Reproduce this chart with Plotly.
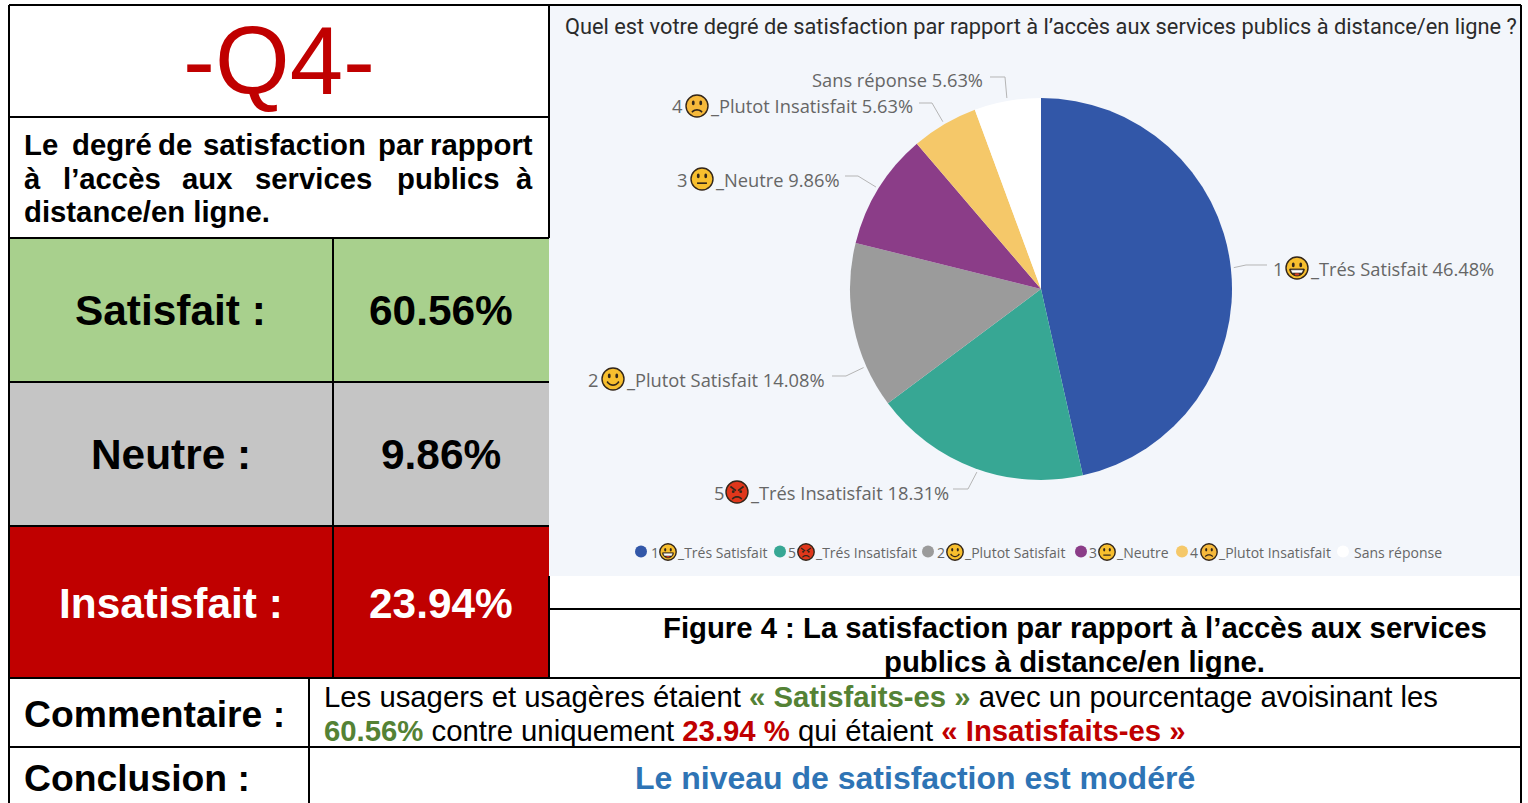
import math
import plotly.graph_objects as go

W, H = 1528, 803
categories = ["Trés Satisfait", "Trés Insatisfait", "Plutot Satisfait", "Neutre", "Plutot Insatisfait", "Sans réponse"]
prefixes = ["1", "5", "2", "3", "4", ""]
faces = ["grin", "angry", "smile", "neutral", "frown", None]
values = [46.48, 18.31, 14.08, 9.86, 5.63, 5.63]
colors = ["#3257A8", "#37A794", "#9B9B9B", "#8B3D88", "#F5C869", "#FFFFFF"]
title = "Quel est votre degré de satisfaction par rapport à l’accès aux services publics à distance/en ligne ?"
summary_labels = ["Satisfait :", "Neutre :", "Insatisfait :"]
summary_values = ["60.56%", "9.86%", "23.94%"]

def X(x): return x / W
def Y(y): return 1 - y / H

shapes, ann = [], []

def rect(x0, y0, x1, y1, fill, layer="below"):
    shapes.append(dict(type="rect", xref="paper", yref="paper", x0=X(x0), x1=X(x1), y0=Y(y0), y1=Y(y1),
                       fillcolor=fill, line_width=0, layer=layer))

def line(x0, y0, x1, y1, color="#000000", w=2):
    shapes.append(dict(type="line", xref="paper", yref="paper", x0=X(x0), x1=X(x1), y0=Y(y0), y1=Y(y1),
                       line=dict(color=color, width=w), layer="above"))

def path(pts, color, w, fill=None):
    d = "M " + " L ".join(f"{X(a):.5f},{Y(b):.5f}" for a, b in pts) + (" Z" if fill else "")
    s = dict(type="path", xref="paper", yref="paper", path=d, line=dict(color=color, width=w), layer="above")
    if fill:
        s["fillcolor"] = fill
    shapes.append(s)

def text(x, y, s, size, color="#000000", family="Liberation Sans", anchor="left"):
    ann.append(dict(xref="paper", yref="paper", x=X(x), y=Y(y), text=s, showarrow=False, xanchor=anchor,
                    yanchor="middle", borderpad=0, font=dict(family=family, size=size, color=color), align=anchor))

def disc(cx, cy, rx, ry, fill, edge=None, w=0, layer="above"):
    shapes.append(dict(type="circle", xref="paper", yref="paper", x0=X(cx - rx), x1=X(cx + rx), y0=Y(cy - ry), y1=Y(cy + ry),
                       fillcolor=fill, line=dict(color=edge or fill, width=w), layer=layer))

def curve(cx, cy, r, a0, a1, color, w):
    n = 10
    pts = [(cx + r * math.sin(math.radians(a0 + (a1 - a0) * i / n)), cy - r * math.cos(math.radians(a0 + (a1 - a0) * i / n))) for i in range(n + 1)]
    path(pts, color, w)

def emoji(kind, cx, cy, r):
    ink = "#33261A"
    fill = {"angry": "#E0371B", "frown": "#F6B93B"}.get(kind, "#F8BF2E")
    disc(cx, cy, r, r, fill, ink, 1.4)
    w = max(1.0, r * 0.15)
    ex, ey = r * 0.34, r * 0.28
    if kind == "angry":
        disc(cx - ex, cy - ey * 0.1, r * 0.13, r * 0.13, ink)
        disc(cx + ex, cy - ey * 0.1, r * 0.13, r * 0.13, ink)
        line(cx - r * 0.6, cy - r * 0.5, cx - r * 0.1, cy - r * 0.12, ink, w)
        line(cx + r * 0.6, cy - r * 0.5, cx + r * 0.1, cy - r * 0.12, ink, w)
        curve(cx, cy + r * 0.95, r * 0.52, -55, 55, ink, w)
        return
    disc(cx - ex, cy - ey, r * 0.13, r * 0.22, ink)
    disc(cx + ex, cy - ey, r * 0.13, r * 0.22, ink)
    if kind == "grin":
        arc = [(cx + r * 0.66 * math.cos(math.radians(a)), cy + r * 0.1 + r * 0.62 * math.sin(math.radians(a))) for a in range(0, 181, 15)]
        path(arc, ink, w * 0.6, fill=ink)
        path([(cx - r * 0.52, cy + r * 0.2), (cx + r * 0.52, cy + r * 0.2), (cx + r * 0.42, cy + r * 0.42), (cx - r * 0.42, cy + r * 0.42)], "#FFFFFF", 0.5, fill="#FFFFFF")
        disc(cx, cy + r * 0.58, r * 0.22, r * 0.1, "#D9402A")
    elif kind == "smile":
        curve(cx, cy - r * 0.05, r * 0.6, 118, 242, ink, w)
    elif kind == "neutral":
        line(cx - r * 0.45, cy + r * 0.38, cx + r * 0.45, cy + r * 0.38, ink, w)
    elif kind == "frown":
        curve(cx, cy + r * 0.95, r * 0.6, -50, 50, ink, w)

# ---------- panels ----------
rect(549, 6, 1521, 576, "#F3F6FB")
rect(9, 238, 549, 382, "#A8D08D")
rect(9, 382, 549, 526, "#C5C5C5")
rect(9, 526, 549, 678, "#C00000")

for a in [(9, 5, 1521, 5), (9, 117, 549, 117), (9, 238, 549, 238), (9, 382, 549, 382), (9, 526, 549, 526),
          (9, 678, 1521, 678), (9, 747, 1521, 747), (549, 609, 1521, 609), (9, 5, 9, 803), (549, 5, 549, 238),
          (549, 576, 549, 678), (333, 238, 333, 678), (309, 678, 309, 803), (1521, 5, 1521, 803)]:
    line(*a)

# ---------- left tables ----------
text(279, 61, "-Q4-", 96, "#C00000", anchor="center")

def justified(words, xs, y, size):
    for w, x in zip(words, xs):
        text(x, y, f"<b>{w}</b>", size)

F = 29.3
justified(["Le", "degré", "de", "satisfaction", "par"], [23, 71, 157, 202, 377], 144, F)
text(534, 144, "<b>rapport</b>", F, anchor="right")
justified(["à", "l’accès", "aux", "services", "publics"], [23, 62, 181, 254, 396], 178, F)
text(534, 178, "<b>à</b>", F, anchor="right")
text(23, 212, "<b>distance/en ligne.</b>", F)

for i, (y, col) in enumerate([(310, "#000000"), (454, "#000000"), (603, "#FFFFFF")]):
    text(170.5, y, f"<b>{summary_labels[i]}</b>", 42.4, col, anchor="center")
    text(440.5, y, f"<b>{summary_values[i]}</b>", 42.4, col, anchor="center")

# ---------- bottom ----------
text(1074.5, 627, "<b>Figure 4 : La satisfaction par rapport à l’accès aux services</b>", F, anchor="center")
text(1074, 661, "<b>publics à distance/en ligne.</b>", F, anchor="center")
text(23, 714, "<b>Commentaire :</b>", 37.3)
text(23, 778, "<b>Conclusion :</b>", 37.3)
G, R_ = "#548235", "#C00000"
text(323, 696, f'Les usagers et usagères étaient <span style="color:{G}"><b>« Satisfaits-es »</b></span> avec un pourcentage avoisinant les', F)
text(323, 730, f'<span style="color:{G}"><b>60.56%</b></span> contre uniquement <span style="color:{R_}"><b>23.94 %</b></span> qui étaient <span style="color:{R_}"><b>« Insatisfaits-es »</b></span>', F)
text(915, 778, "<b>Le niveau de satisfaction est modéré</b>", 32, "#2E74B5", anchor="center")

# ---------- chart title ----------
text(564, 26, title, 21.8, "#2B2B2B", "Roboto")

# ---------- pie ----------
CX, CY, RAD = 1041, 289, 191
LBL = "#666666"
# digit x, emoji centre x, text x, y, elbow x, line start x, leader offset along the arc (degrees)
label_pos = [
    (1272, 1297, 1309, 268, 1246, 1267, 0),
    (713, 737, 749, 492, 968, 953, -1),
    (587, 613, 625, 379, 846, 832, -12.5),
    (676, 702, 714, 179, 858, 845, 0),
    (671, 697, 709, 106, 932, 919, 0),
    (None, None, 811, 80, 1005, 990, 0),
]
total = sum(values)
cum = 0
for i, v in enumerate(values):
    dx, ey, tx, y, ex, sx, off = label_pos[i]
    mid = (cum + v / 2) / total * 2 * math.pi + math.radians(off)
    cum += v
    lbl = f"{categories[i]} {v:.2f}%"
    if faces[i]:
        text(dx, y, prefixes[i], 18.3, LBL, "Open Sans")
        emoji(faces[i], ey, y, 11)
        text(tx, y, "_" + lbl, 18.3, LBL, "Open Sans")
    else:
        text(tx, y, lbl, 18.3, LBL, "Open Sans")
    px = CX + (RAD + 3) * math.sin(mid)
    py = CY - (RAD + 3) * math.cos(mid)
    ly = y - 3
    path([(sx, ly), (ex, ly), (px, py)], "#B5B5B5", 1)

# ---------- legend ----------
legend_pos = [(641, 650, 668, 676), (780, 787, 806, 814), (928, 936, 955, 963), (1081, 1088, 1107, 1115), (1182, 1189, 1209, 1217), (1343, None, None, 1353)]
for i, (lx, dx, ey, tx) in enumerate(legend_pos):
    disc(lx, 551.5, 6, 6, colors[i])
    if faces[i]:
        text(dx, 552, prefixes[i], 14, LBL, "Open Sans")
        emoji(faces[i], ey, 552, 8.2)
        text(tx, 552, "_" + categories[i], 14, LBL, "Open Sans")
    else:
        text(tx, 552, categories[i], 14, LBL, "Open Sans")

fig = go.Figure(go.Pie(
    labels=categories, values=values, sort=False, direction="clockwise", rotation=0,
    marker=dict(colors=colors, line=dict(width=0)), textinfo="none", hoverinfo="label+percent",
    domain=dict(x=[X(CX - RAD), X(CX + RAD)], y=[Y(CY + RAD), Y(CY - RAD)]),
))
fig.update_layout(width=W, height=H, autosize=False, margin=dict(l=0, r=0, t=0, b=0), showlegend=False,
                  paper_bgcolor="#FFFFFF", shapes=shapes, annotations=ann)
fig.write_html("out.html", config=dict(displayModeBar=False),
               post_script="document.body.style.margin='0';document.body.style.overflow='hidden';")
